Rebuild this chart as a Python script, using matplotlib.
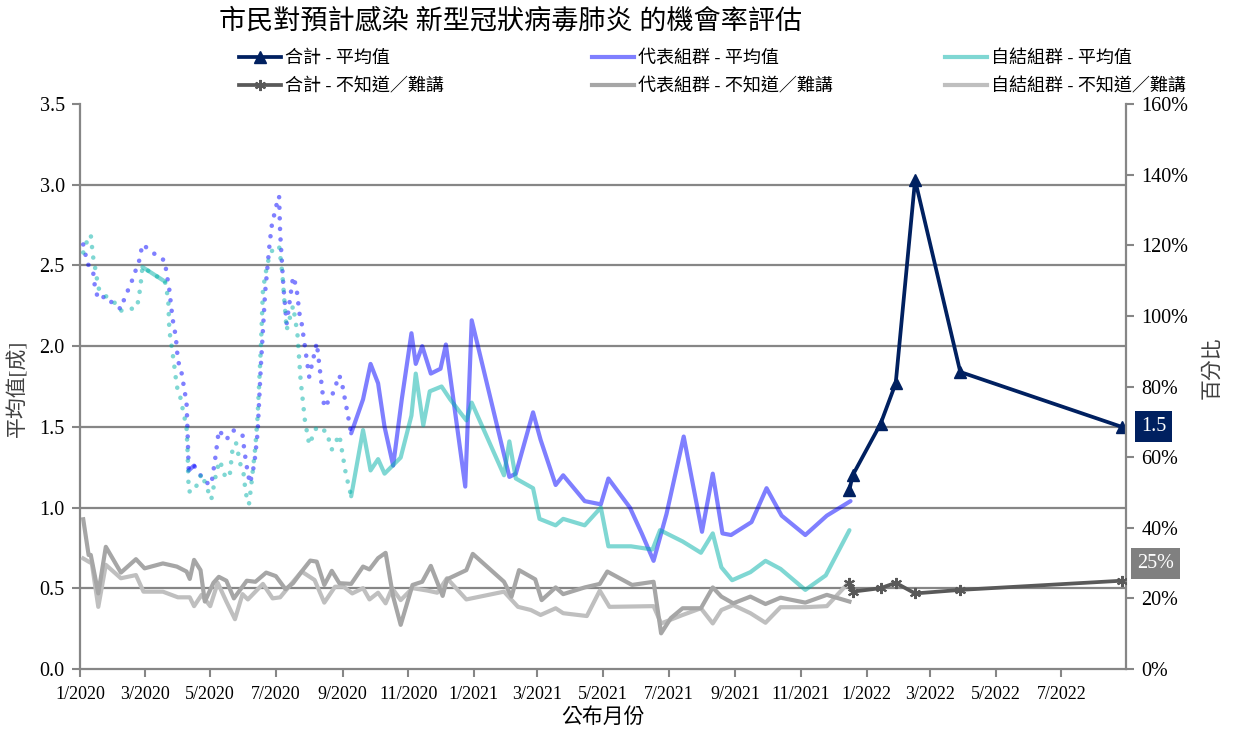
import matplotlib
matplotlib.use("Agg")
import matplotlib.pyplot as plt
import matplotlib.dates as mdates
from matplotlib.lines import Line2D
from matplotlib.ticker import FuncFormatter
import numpy as np
import pandas as pd

plt.rcParams['font.family'] = ['Liberation Serif', 'Noto Sans CJK TC']

# ---------------- text ----------------
title = "市民對預計感染 新型冠狀病毒肺炎 的機會率評估"
label_total_mean = "合計 - 平均值"
label_rep_mean = "代表組群 - 平均值"
label_self_mean = "自結組群 - 平均值"
label_total_dk = "合計 - 不知道／難講"
label_rep_dk = "代表組群 - 不知道／難講"
label_self_dk = "自結組群 - 不知道／難講"
ylabel_left = "平均值[成]"
ylabel_right = "百分比"
xlabel = "公布月份"

# ---------------- data ----------------
# 代表組群 - 平均值 (left axis)
rep_mean_dates = [
    "2020-01-04", "2020-01-08", "2020-01-13", "2020-01-15", "2020-01-18", "2020-01-25",
    "2020-02-01", "2020-02-08", "2020-02-11", "2020-02-18", "2020-02-25", "2020-02-28",
    "2020-03-07", "2020-03-14", "2020-03-20", "2020-03-21", "2020-03-24", "2020-03-27",
    "2020-03-30", "2020-04-01", "2020-04-04", "2020-04-07", "2020-04-09", "2020-04-10",
    "2020-04-11", "2020-04-16", "2020-04-21", "2020-04-26", "2020-05-02", "2020-05-06",
    "2020-05-09", "2020-05-16", "2020-05-22", "2020-05-31", "2020-06-02", "2020-06-05",
    "2020-06-07", "2020-06-11", "2020-06-14", "2020-06-17", "2020-06-21", "2020-06-25",
    "2020-06-27", "2020-07-01", "2020-07-04", "2020-07-05", "2020-07-08", "2020-07-11",
    "2020-07-17", "2020-07-20", "2020-07-23", "2020-07-25", "2020-07-29", "2020-08-01",
    "2020-08-08", "2020-08-15", "2020-08-22", "2020-08-29", "2020-09-01", "2020-09-06",
    "2020-09-09",
    "2020-09-20", "2020-09-27", "2020-10-04", "2020-10-10", "2020-10-18", "2020-10-26",
    "2020-11-04", "2020-11-08", "2020-11-14", "2020-11-22", "2020-12-01", "2020-12-06",
    "2020-12-24", "2020-12-30", "2021-02-03", "2021-02-09", "2021-02-25", "2021-03-04",
    "2021-03-18", "2021-03-25", "2021-04-14", "2021-04-29", "2021-05-06", "2021-05-26",
    "2021-06-06", "2021-06-17", "2021-06-29", "2021-07-15", "2021-08-01", "2021-08-11",
    "2021-08-20", "2021-08-28", "2021-09-16", "2021-09-30", "2021-10-14", "2021-11-05",
    "2021-11-25", "2021-12-17",
]
rep_mean_values = [
    2.63, 2.51, 2.47, 2.36, 2.29, 2.31,
    2.26, 2.23, 2.29, 2.40, 2.53, 2.63,
    2.59, 2.55, 2.53, 2.47, 2.35, 2.17,
    2.06, 1.91, 1.85, 1.73, 1.65, 1.46,
    1.23, 1.26, 1.21, 1.16, 1.14, 1.32,
    1.48, 1.42, 1.48, 1.45, 1.34, 1.21,
    1.15, 1.27, 1.46, 1.87, 2.33, 2.62,
    2.74, 2.86, 2.93, 2.70, 2.37, 2.14,
    2.43, 2.37, 2.20, 2.14, 1.95, 1.81,
    2.02, 1.62, 1.69, 1.82, 1.75, 1.57,
    1.46,
    1.67, 1.89, 1.77, 1.50, 1.26, 1.67,
    2.08, 1.89, 2.00, 1.83, 1.86, 2.01,
    1.13, 2.16, 1.19, 1.21, 1.59, 1.42,
    1.14, 1.20, 1.04, 1.02, 1.18, 1.00,
    0.84, 0.67, 0.96, 1.44, 0.85, 1.21,
    0.84, 0.83, 0.91, 1.12, 0.95, 0.83,
    0.95, 1.04,
]

# 自結組群 - 平均值 (left axis)
self_mean_dates = [
    "2020-01-04", "2020-01-08", "2020-01-11", "2020-01-13", "2020-01-16", "2020-01-18",
    "2020-01-25", "2020-02-02", "2020-02-08", "2020-02-17", "2020-02-23", "2020-02-26",
    "2020-02-28", "2020-03-20", "2020-03-23", "2020-03-24", "2020-03-28", "2020-03-31",
    "2020-04-03", "2020-04-07", "2020-04-09", "2020-04-10", "2020-04-11", "2020-04-16",
    "2020-04-23", "2020-05-02", "2020-05-07", "2020-05-10", "2020-05-15", "2020-05-19",
    "2020-05-22", "2020-05-25", "2020-05-29", "2020-06-01", "2020-06-03", "2020-06-06",
    "2020-06-08", "2020-06-12", "2020-06-14", "2020-06-17", "2020-06-19", "2020-06-22",
    "2020-06-24", "2020-06-28", "2020-07-04", "2020-07-07", "2020-07-11", "2020-07-17",
    "2020-07-21", "2020-07-24", "2020-07-28", "2020-08-01", "2020-08-08", "2020-08-17",
    "2020-08-22", "2020-08-29", "2020-09-04", "2020-09-09",
    "2020-09-20", "2020-09-27", "2020-10-04", "2020-10-10", "2020-10-25", "2020-11-04",
    "2020-11-08", "2020-11-15", "2020-11-21", "2020-12-02", "2020-12-10", "2020-12-25",
    "2020-12-30", "2021-01-29", "2021-02-03", "2021-02-09", "2021-02-25", "2021-03-03",
    "2021-03-18", "2021-03-25", "2021-04-14", "2021-04-29", "2021-05-06", "2021-05-27",
    "2021-06-16", "2021-06-23", "2021-07-14", "2021-07-31", "2021-08-11", "2021-08-19",
    "2021-08-29", "2021-09-15", "2021-09-29", "2021-10-13", "2021-11-05", "2021-11-24",
    "2021-12-16",
]
self_mean_values = [
    2.58, 2.66, 2.69, 2.56, 2.45, 2.36,
    2.31, 2.27, 2.22, 2.23, 2.24, 2.36,
    2.49, 2.40, 2.29, 2.10, 1.91, 1.75,
    1.69, 1.56, 1.50, 1.34, 1.10, 1.10,
    1.21, 1.05, 1.23, 1.29, 1.19, 1.19,
    1.38, 1.40, 1.27, 1.21, 1.09, 1.02,
    1.13, 1.38, 1.56, 1.98, 2.35, 2.47,
    2.53, 2.60, 2.62, 2.45, 2.10, 2.25,
    2.08, 1.79, 1.54, 1.39, 1.50, 1.47,
    1.36, 1.45, 1.21, 1.07,
    1.48, 1.23, 1.30, 1.21, 1.31, 1.57,
    1.83, 1.51, 1.72, 1.75, 1.67, 1.54,
    1.65, 1.20, 1.41, 1.18, 1.12, 0.93,
    0.89, 0.93, 0.89, 1.00, 0.76, 0.76,
    0.74, 0.86, 0.79, 0.72, 0.84, 0.63,
    0.55, 0.60, 0.67, 0.62, 0.49, 0.58,
    0.86,
]

# 合計 - 平均值 (left axis)
total_mean_dates = ["2021-12-16", "2021-12-19", "2022-01-14", "2022-01-28",
                    "2022-02-15", "2022-03-29", "2022-08-26"]
total_mean_values = [1.11, 1.20, 1.52, 1.77, 3.03, 1.84, 1.50]

# 代表組群 - 不知道／難講 (right axis, %)
rep_dk_dates = [
    "2020-01-04", "2020-01-09", "2020-01-11", "2020-01-18", "2020-01-25", "2020-02-08",
    "2020-02-22", "2020-03-01", "2020-03-18", "2020-03-31", "2020-04-09", "2020-04-12",
    "2020-04-16", "2020-04-22", "2020-04-26", "2020-05-04", "2020-05-09", "2020-05-16",
    "2020-05-23", "2020-06-04", "2020-06-12", "2020-06-22", "2020-07-01", "2020-07-10",
    "2020-07-17", "2020-07-26", "2020-08-02", "2020-08-08", "2020-08-15", "2020-08-22",
    "2020-08-29", "2020-09-09", "2020-09-20", "2020-09-26", "2020-10-04", "2020-10-11",
    "2020-10-18", "2020-10-25", "2020-11-05", "2020-11-14", "2020-11-22", "2020-12-03",
    "2020-12-07", "2020-12-25", "2020-12-31", "2021-01-29", "2021-02-05", "2021-02-12",
    "2021-02-27", "2021-03-05", "2021-03-18", "2021-03-25", "2021-04-14", "2021-04-28",
    "2021-05-05", "2021-05-28", "2021-06-17", "2021-06-24", "2021-07-03", "2021-07-14",
    "2021-07-31", "2021-08-11", "2021-08-19", "2021-08-30", "2021-09-15", "2021-09-29",
    "2021-10-13", "2021-11-05", "2021-11-25", "2021-12-16",
]
rep_dk_values = [
    42.4, 32.3, 32.3, 21.4, 34.6, 27.3,
    31.1, 28.5, 29.9, 29.0, 27.6, 25.5,
    30.9, 28.0, 19.1, 24.4, 26.1, 25.0,
    20.0, 25.0, 24.7, 27.3, 26.3, 22.6,
    24.3, 28.0, 30.7, 30.4, 23.8, 27.8,
    24.3, 24.1, 29.0, 28.2, 31.4, 32.9,
    20.5, 12.5, 23.8, 24.7, 29.2, 20.7,
    25.4, 28.0, 32.6, 24.7, 20.5, 28.0,
    25.4, 19.5, 23.1, 21.2, 23.1, 24.1,
    27.6, 23.8, 24.7, 10.1, 14.4, 17.2,
    17.2, 23.1, 20.5, 18.6, 20.5, 18.4,
    20.2, 18.8, 21.0, 19.1,
]

# 自結組群 - 不知道／難講 (right axis, %)
self_dk_dates = [
    "2020-01-04", "2020-01-09", "2020-01-12", "2020-01-18", "2020-01-25", "2020-02-08",
    "2020-02-22", "2020-02-29", "2020-03-18", "2020-04-01", "2020-04-12", "2020-04-16",
    "2020-04-23", "2020-05-01", "2020-05-08", "2020-05-16", "2020-05-24", "2020-05-31",
    "2020-06-05", "2020-06-19", "2020-06-28", "2020-07-05", "2020-07-12", "2020-07-25",
    "2020-08-06", "2020-08-15", "2020-08-25", "2020-09-02", "2020-09-10", "2020-09-20",
    "2020-09-26", "2020-10-04", "2020-10-11", "2020-10-17", "2020-10-25", "2020-11-05",
    "2020-11-19", "2020-11-28", "2020-12-07", "2020-12-25", "2021-01-29", "2021-02-11",
    "2021-02-23", "2021-03-04", "2021-03-18", "2021-03-25", "2021-04-16", "2021-04-28",
    "2021-05-07", "2021-06-17", "2021-06-24", "2021-07-14", "2021-07-31", "2021-08-11",
    "2021-08-19", "2021-08-30", "2021-09-15", "2021-09-29", "2021-10-13", "2021-11-05",
    "2021-11-25", "2021-12-16",
]
self_dk_values = [
    31.3, 30.4, 29.9, 17.6, 29.5, 25.7,
    26.6, 21.9, 21.9, 20.3, 20.3, 17.8,
    21.0, 17.8, 24.4, 19.1, 14.1, 21.2,
    19.7, 24.1, 20.0, 20.3, 22.9, 27.6,
    25.2, 18.8, 23.3, 23.3, 21.4, 22.9,
    19.7, 21.6, 18.6, 22.9, 19.5, 22.9,
    22.2, 21.6, 25.7, 19.7, 21.9, 17.6,
    16.7, 15.3, 17.2, 15.8, 15.0, 22.2,
    17.6, 17.8, 12.9, 15.3, 17.2, 12.9,
    16.7, 18.1, 15.8, 13.1, 17.5, 17.5,
    17.8, 24.7,
]

# 合計 - 不知道／難講 (right axis, %)
total_dk_dates = ["2021-12-16", "2021-12-19", "2022-01-14", "2022-01-28",
                  "2022-02-15", "2022-03-29", "2022-08-26"]
total_dk_values = [24.4, 21.9, 22.9, 24.4, 21.4, 22.4, 25.0]

# early period drawn dotted, except these solid stretches
dotted_until = "2020-09-09"
rep_solid_spans = [("2020-04-11", "2020-04-16")]
self_solid_spans = [("2020-02-28", "2020-03-20")]

x_start, x_end = "2020-01-01", "2022-08-30"

# ---------------- styles ----------------
c_navy = "#002060"
c_total_dk = "#595959"
c_rep = (0.0, 0.0, 1.0, 0.5)
c_self = (0.0, 0.69, 0.66, 0.5)
c_rep_dk = "#A6A6A6"
c_self_dk = "#BFBFBF"
c_axis = "#868686"
lw_main = 3.0
dot_style = (0, (0.01, 2.3))

fig = plt.figure(figsize=(12.34, 7.33), dpi=100)
ax = fig.add_axes([80 / 1234, 1 - 669 / 733, (1126 - 80) / 1234, (669 - 104) / 733])
ax2 = ax.twinx()


def draw_mixed(axis, dates, values, color, spans):
    d = pd.to_datetime(dates)
    v = np.array(values)
    cut = pd.Timestamp(dotted_until)
    early = d <= cut
    late = d >= cut
    axis.plot(d[early], v[early], color=color, lw=3.3, linestyle=dot_style,
              dash_capstyle='round', zorder=3)
    axis.plot(d[late], v[late], color=color, lw=lw_main, solid_capstyle='round',
              solid_joinstyle='round', zorder=3)
    for s, e in spans:
        m = (d >= pd.Timestamp(s)) & (d <= pd.Timestamp(e))
        axis.plot(d[m], v[m], color=color, lw=lw_main, solid_capstyle='round', zorder=3)


# gridlines
ax.set_ylim(0, 3.5)
yt = np.arange(0, 3.51, 0.5)
ax.set_yticks(yt)
for v in yt:
    if 0 < v < 3.5:
        ax.axhline(v, color=c_axis, lw=1.6, zorder=0.5)

draw_mixed(ax, rep_mean_dates, rep_mean_values, c_rep, rep_solid_spans)
draw_mixed(ax, self_mean_dates, self_mean_values, c_self, self_solid_spans)

tm_d = pd.to_datetime(total_mean_dates)
ax.plot(tm_d, total_mean_values, color=c_navy, lw=2.7, marker='^', markersize=8,
        zorder=5, solid_joinstyle='miter')

ax2.plot(pd.to_datetime(self_dk_dates), self_dk_values, color=c_self_dk, lw=lw_main,
         solid_joinstyle='round', zorder=2)
ax2.plot(pd.to_datetime(rep_dk_dates), rep_dk_values, color=c_rep_dk, lw=lw_main,
         solid_joinstyle='round', zorder=2)
td_d = pd.to_datetime(total_dk_dates)
ax2.plot(td_d, total_dk_values, color=c_total_dk, lw=2.7, marker=(6, 2, 0),
         markersize=8, markeredgewidth=1.5, zorder=5)

# axes formatting
ax.set_xlim(pd.Timestamp(x_start), pd.Timestamp(x_end))
ax.xaxis.set_major_locator(mdates.MonthLocator(bymonth=[1, 3, 5, 7, 9, 11]))
ax.xaxis.set_major_formatter(FuncFormatter(
    lambda x, p: f"{mdates.num2date(x).month}/{mdates.num2date(x).year}"))
ax.yaxis.set_major_formatter(FuncFormatter(lambda x, p: f"{x:.1f}"))
ax2.set_ylim(0, 160)
ax2.set_yticks(np.arange(0, 161, 20))
ax2.yaxis.set_major_formatter(FuncFormatter(lambda x, p: f"{x:.0f}%"))

for a in (ax, ax2):
    a.spines['top'].set_visible(False)
    for s in a.spines.values():
        s.set_color(c_axis)
        s.set_linewidth(1.6)
ax2.spines['left'].set_visible(False)
ax2.spines['bottom'].set_visible(False)
ax.spines['right'].set_visible(False)

ax.tick_params(axis='x', direction='out', length=6, width=1.5, color=c_axis,
               labelsize=13, pad=6)
ax.tick_params(axis='y', direction='out', length=6, width=1.5, color=c_axis,
               labelsize=14.5, pad=5)
ax2.tick_params(axis='y', direction='out', length=6, width=1.5, color=c_axis,
                labelsize=14.5, pad=5)

# data labels for last points
ax.annotate(f"{total_mean_values[-1]:.1f}", xy=(tm_d[-1], total_mean_values[-1]),
            xytext=(23, 0), textcoords='offset points', ha='center', va='center',
            color='white', fontsize=14.5,
            bbox=dict(boxstyle='square,pad=0.3', fc=c_navy, ec='none'),
            annotation_clip=False, zorder=10)
ax2.annotate(f"{total_dk_values[-1]:.0f}%", xy=(td_d[-1], total_dk_values[-1]),
             xytext=(24.5, 12.5), textcoords='offset points', ha='center', va='center',
             color='white', fontsize=14.5,
             bbox=dict(boxstyle='square,pad=0.3', fc='#808080', ec='none'),
             annotation_clip=False, zorder=10)

# titles / labels
fig.text(511 / 1234, 1 - 22 / 733, title, ha='center', va='center', fontsize=19.5)
fig.text(18 / 1234, 1 - 388 / 733, ylabel_left, ha='center', va='center',
         rotation=90, fontsize=15, color='#404040')
fig.text(1213 / 1234, 1 - 368 / 733, ylabel_right, ha='center', va='center',
         rotation=90, fontsize=15, color='#404040')
fig.text(603 / 1234, 1 - 718 / 733, xlabel, ha='center', va='center', fontsize=15)

# legend: three columns of two rows
h_tm = Line2D([], [], color=c_navy, lw=2.7, marker='^', markersize=8)
h_td = Line2D([], [], color=c_total_dk, lw=2.7, marker=(6, 2, 0), markersize=8,
              markeredgewidth=1.5)
h_rm = Line2D([], [], color=c_rep, lw=lw_main)
h_rd = Line2D([], [], color=c_rep_dk, lw=lw_main)
h_sm = Line2D([], [], color=c_self, lw=lw_main)
h_sd = Line2D([], [], color=c_self_dk, lw=lw_main)
legend_cols = [([h_tm, h_td], [label_total_mean, label_total_dk], 239),
               ([h_rm, h_rd], [label_rep_mean, label_rep_dk], 592),
               ([h_sm, h_sd], [label_self_mean, label_self_dk], 945)]
for hs, ls, x0 in legend_cols:
    fig.legend(hs, ls, loc='upper left', bbox_to_anchor=(x0 / 1234, 1 - 50 / 733),
               frameon=False, fontsize=13, handlelength=2.3, handletextpad=0.25,
               borderpad=0, borderaxespad=0, labelspacing=0.62, numpoints=1)

fig.savefig("out.png", dpi=100)
